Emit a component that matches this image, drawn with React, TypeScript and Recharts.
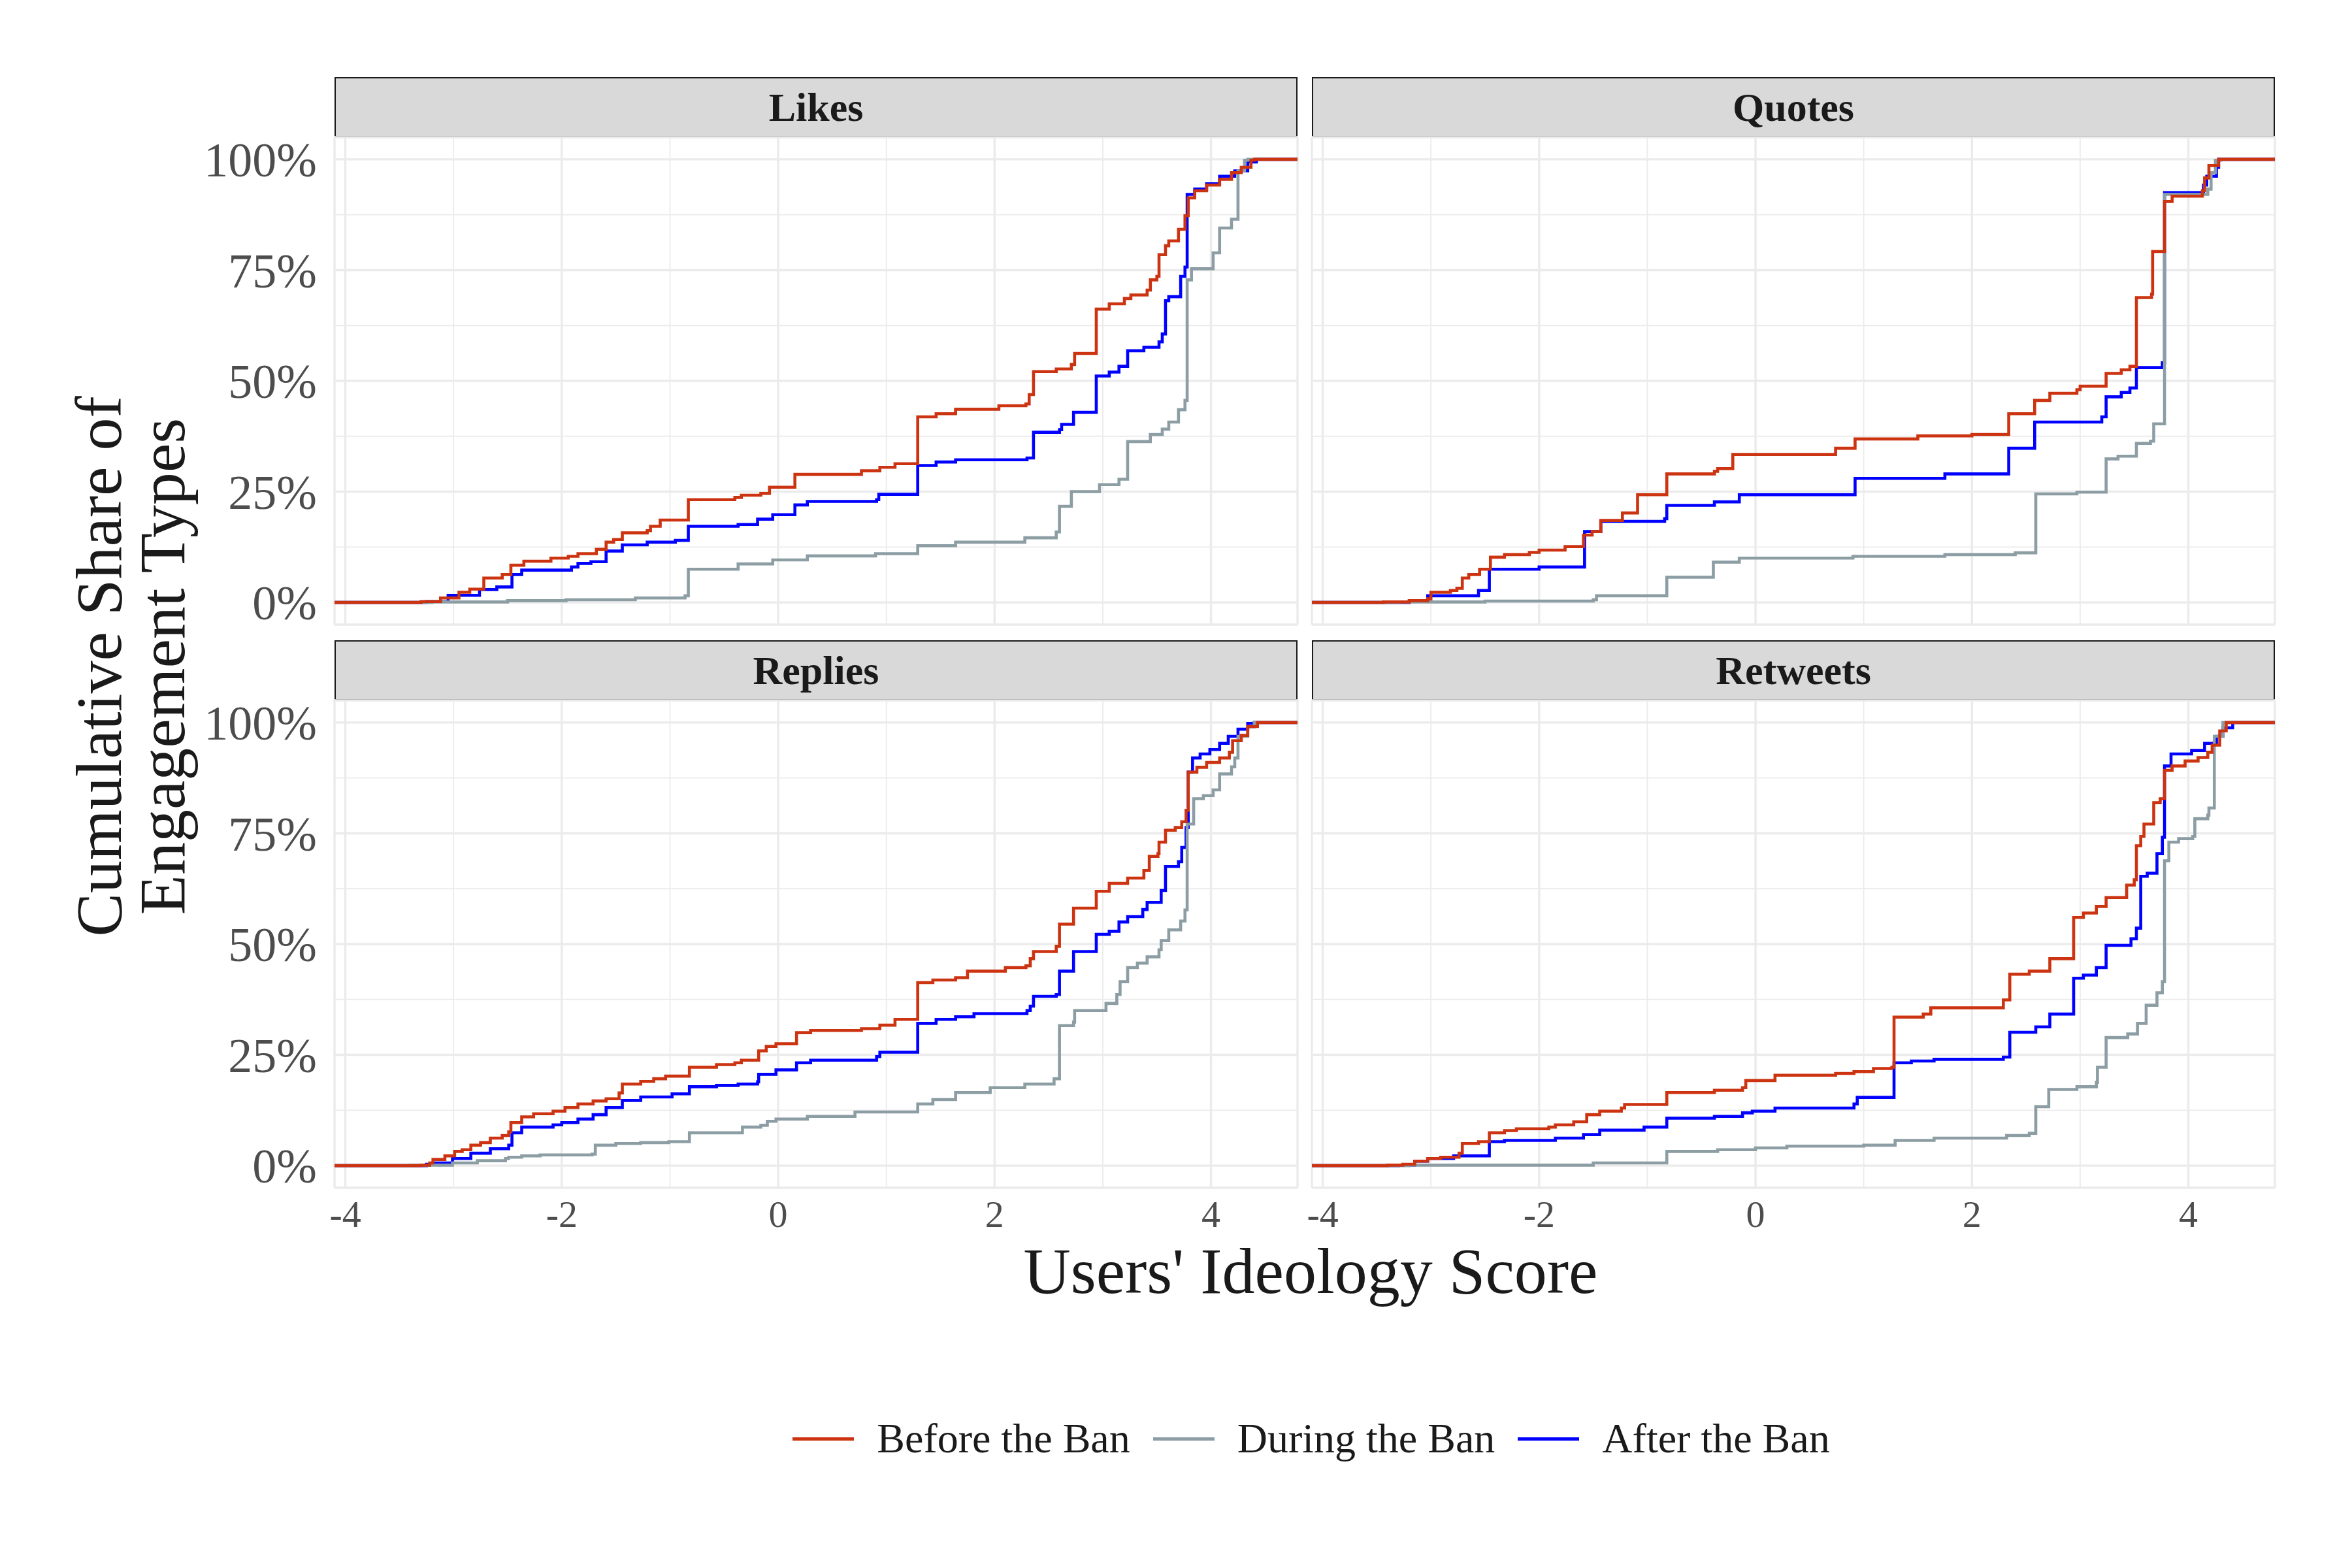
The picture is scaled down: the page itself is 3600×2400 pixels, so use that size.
import React from 'react';
import { LineChart, Line, XAxis, YAxis, CartesianGrid } from 'recharts';

type Pt = [number, number];

const font = '"Liberation Serif", "DejaVu Serif", serif';

const periods = ['Before the Ban', 'During the Ban', 'After the Ban'];
const periodColors = ['#CC3311', '#8C9DA4', '#0000FF'];
// red drawn last so it sits on top, like the original
const drawOrder = [2, 1, 0];

const xMajor = [-4, -2, 0, 2, 4];
const xMinor = [-3, -1, 1, 3];
const yMajor = [0, 25, 50, 75, 100];
const yMinor = [12.5, 37.5, 62.5, 87.5];
const xDomain: [number, number] = [-4.1, 4.8];
const yDomain: [number, number] = [-5, 105];

// ideology score, cumulative share (%)
const likesBefore: Pt[] = [
  [-3.3, 0.2], [-3.12, 1.0], [-2.95, 2.3], [-2.85, 3.0], [-2.72, 5.5], [-2.55, 6.3], [-2.47, 8.4],
  [-2.35, 9.3], [-2.1, 10.0], [-1.94, 10.4], [-1.85, 11.0], [-1.68, 12.0], [-1.59, 13.6], [-1.52, 14.2],
  [-1.44, 15.7], [-1.21, 16.2], [-1.18, 17.2], [-1.09, 18.6], [-0.83, 23.2], [-0.4, 23.7], [-0.34, 24.2],
  [-0.16, 24.6], [-0.08, 26.0], [0.155, 28.9], [0.77, 29.7], [0.94, 30.5], [1.08, 31.3], [1.29, 41.9],
  [1.46, 42.6], [1.64, 43.6], [2.04, 44.4], [2.29, 44.8], [2.32, 46.9], [2.36, 52.1], [2.57, 52.7],
  [2.71, 53.7], [2.74, 56.2], [2.94, 66.2], [3.06, 67.4], [3.2, 68.6], [3.26, 69.4], [3.41, 70.5],
  [3.44, 72.8], [3.5, 73.6], [3.52, 78.5], [3.58, 80.5], [3.61, 81.6], [3.7, 84.2], [3.76, 87.3],
  [3.79, 91.3], [3.85, 92.9], [3.96, 94.2], [4.08, 95.5], [4.19, 97.0], [4.28, 98.2], [4.37, 99.8], [4.4, 100],
];
const likesDuring: Pt[] = [
  [-3.2, 0.1], [-2.5, 0.4], [-1.96, 0.6], [-1.32, 1.0], [-0.86, 1.5], [-0.83, 7.5], [-0.37, 8.7],
  [-0.05, 9.6], [0.27, 10.5], [0.9, 11.0], [1.29, 12.8], [1.64, 13.6], [2.28, 14.6], [2.57, 15.9],
  [2.6, 21.7], [2.71, 25.0], [2.97, 26.6], [3.15, 27.8], [3.23, 36.3], [3.44, 37.9], [3.55, 39.1],
  [3.61, 40.7], [3.7, 43.5], [3.76, 45.6], [3.78, 72.8], [3.82, 75.3], [4.02, 78.9], [4.08, 84.5],
  [4.19, 86.5], [4.25, 97.4], [4.31, 99.8], [4.34, 100],
];
const likesAfter: Pt[] = [
  [-3.25, 0.2], [-3.05, 1.6], [-2.76, 2.9], [-2.6, 3.5], [-2.46, 6.3], [-2.37, 7.3], [-1.91, 8.0],
  [-1.85, 8.8], [-1.73, 9.2], [-1.59, 11.6], [-1.44, 13.0], [-1.21, 13.6], [-0.95, 14.0], [-0.83, 17.2],
  [-0.37, 17.6], [-0.19, 18.8], [-0.05, 19.8], [0.155, 22.0], [0.27, 22.8], [0.91, 23.2], [0.93, 24.4],
  [1.29, 30.9], [1.46, 31.7], [1.64, 32.2], [2.3, 32.6], [2.36, 38.4], [2.6, 39.0], [2.62, 40.2],
  [2.73, 42.9], [2.94, 51.1], [3.06, 52.0], [3.15, 53.3], [3.23, 56.8], [3.38, 57.6], [3.52, 58.8],
  [3.55, 60.6], [3.58, 68.1], [3.61, 69.0], [3.72, 73.6], [3.76, 75.7], [3.78, 92.1], [3.85, 93.3],
  [3.96, 94.5], [4.08, 96.2], [4.22, 97.4], [4.34, 99.4], [4.42, 100],
];

const quotesBefore: Pt[] = [
  [-3.44, 0.1], [-3.2, 0.4], [-3.03, 0.8], [-3.0, 2.3], [-2.82, 2.7], [-2.76, 3.2], [-2.71, 5.5],
  [-2.65, 6.3], [-2.55, 7.5], [-2.45, 10.2], [-2.32, 10.8], [-2.09, 11.3], [-2.0, 11.8], [-1.76, 12.6],
  [-1.59, 15.2], [-1.51, 16.0], [-1.43, 18.5], [-1.23, 20.2], [-1.09, 24.3], [-0.82, 29.0], [-0.38, 29.6],
  [-0.35, 30.2], [-0.21, 33.4], [0.74, 34.8], [0.92, 36.9], [1.5, 37.6], [2.0, 37.9], [2.34, 42.6],
  [2.58, 45.6], [2.72, 47.2], [2.97, 48.0], [3.0, 48.8], [3.24, 51.7], [3.38, 52.5], [3.46, 53.3],
  [3.52, 68.8], [3.66, 69.6], [3.67, 79.2], [3.78, 90.5], [3.85, 91.7], [4.13, 92.9], [4.15, 95.8],
  [4.19, 98.6], [4.28, 100],
];
const quotesDuring: Pt[] = [
  [-3.3, 0.1], [-2.5, 0.3], [-1.5, 0.6], [-1.47, 1.5], [-0.82, 5.7], [-0.39, 9.1], [-0.15, 10.0],
  [0.9, 10.4], [1.75, 10.8], [2.4, 11.2], [2.59, 24.5], [2.97, 24.9], [3.24, 32.4], [3.35, 33.0],
  [3.52, 35.9], [3.65, 36.4], [3.68, 40.3], [3.78, 92.1], [4.18, 93.3], [4.21, 97.0], [4.25, 99.8], [4.3, 100],
];
const quotesAfter: Pt[] = [
  [-3.2, 0.3], [-3.03, 1.5], [-2.56, 2.7], [-2.46, 7.5], [-2.0, 8.0], [-1.58, 16.0], [-1.43, 18.3],
  [-0.84, 18.9], [-0.82, 21.9], [-0.38, 22.7], [-0.15, 24.3], [0.92, 28.0], [1.75, 29.0], [2.34, 34.8],
  [2.58, 40.7], [3.2, 41.9], [3.24, 46.4], [3.38, 47.4], [3.46, 48.4], [3.52, 53.0], [3.76, 54.1],
  [3.78, 92.5], [4.14, 94.2], [4.17, 96.2], [4.26, 98.2], [4.28, 100],
];

const repliesBefore: Pt[] = [
  [-3.3, 0.1], [-3.22, 0.6], [-3.19, 1.4], [-3.08, 2.2], [-2.99, 3.2], [-2.92, 3.6], [-2.84, 4.6],
  [-2.75, 5.2], [-2.66, 6.2], [-2.55, 6.8], [-2.49, 7.6], [-2.47, 9.7], [-2.37, 11.0], [-2.26, 11.7],
  [-2.08, 12.3], [-1.97, 13.1], [-1.85, 13.9], [-1.71, 14.6], [-1.59, 15.1], [-1.47, 16.4], [-1.44, 18.4],
  [-1.27, 19.0], [-1.15, 19.6], [-1.04, 20.2], [-0.82, 22.2], [-0.57, 22.8], [-0.4, 23.2], [-0.34, 23.8],
  [-0.18, 25.9], [-0.11, 26.9], [-0.02, 27.5], [0.17, 30.0], [0.3, 30.5], [0.77, 30.9], [0.94, 31.7],
  [1.08, 33.0], [1.29, 41.3], [1.43, 41.9], [1.64, 42.4], [1.75, 43.9], [2.1, 44.7], [2.29, 45.1],
  [2.33, 46.7], [2.36, 48.3], [2.57, 49.5], [2.6, 54.5], [2.73, 58.1], [2.94, 61.9], [3.06, 63.7],
  [3.23, 64.9], [3.38, 66.6], [3.43, 69.8], [3.51, 70.4], [3.52, 73.0], [3.58, 75.7], [3.67, 76.3],
  [3.73, 77.6], [3.77, 80.2], [3.79, 88.8], [3.87, 89.9], [3.96, 91.0], [4.08, 92.0], [4.17, 93.3],
  [4.2, 95.9], [4.28, 97.1], [4.34, 99.1], [4.43, 100],
];
const repliesDuring: Pt[] = [
  [-3.4, 0.1], [-3.01, 0.6], [-2.78, 1.1], [-2.52, 1.6], [-2.49, 1.9], [-2.37, 2.2], [-2.2, 2.4],
  [-1.72, 2.6], [-1.69, 4.6], [-1.5, 5.0], [-1.27, 5.2], [-1.01, 5.4], [-0.82, 7.4], [-0.33, 8.7],
  [-0.16, 9.1], [-0.1, 10.0], [-0.02, 10.5], [0.27, 11.1], [0.71, 12.1], [1.29, 13.9], [1.43, 14.9],
  [1.64, 16.5], [1.96, 17.6], [2.28, 18.4], [2.55, 19.6], [2.6, 31.6], [2.73, 32.4], [2.74, 35.0],
  [3.03, 36.6], [3.13, 38.6], [3.16, 41.5], [3.23, 44.7], [3.32, 45.7], [3.41, 47.1], [3.52, 48.7],
  [3.54, 50.8], [3.61, 53.2], [3.72, 55.2], [3.76, 57.7], [3.78, 77.1], [3.84, 82.8], [3.93, 83.5],
  [4.02, 84.8], [4.08, 88.4], [4.19, 90.0], [4.22, 92.0], [4.25, 96.9], [4.34, 99.0], [4.4, 100],
];
const repliesAfter: Pt[] = [
  [-3.25, 0.3], [-3.19, 0.6], [-3.01, 1.6], [-2.84, 2.8], [-2.66, 3.8], [-2.49, 4.6], [-2.46, 7.4],
  [-2.37, 8.7], [-2.08, 9.2], [-2.0, 9.7], [-1.85, 10.5], [-1.71, 11.5], [-1.59, 13.1], [-1.44, 14.7],
  [-1.27, 15.5], [-0.98, 16.2], [-0.82, 17.8], [-0.57, 18.1], [-0.37, 18.4], [-0.19, 18.9], [-0.18, 20.6],
  [-0.02, 21.6], [0.17, 23.2], [0.3, 23.8], [0.91, 24.6], [0.94, 25.6], [1.29, 32.1], [1.46, 33.0],
  [1.64, 33.6], [1.81, 34.3], [2.3, 35.0], [2.33, 36.0], [2.36, 38.2], [2.57, 38.6], [2.6, 43.9],
  [2.73, 48.3], [2.94, 52.2], [3.06, 52.9], [3.15, 55.0], [3.23, 56.2], [3.37, 57.8], [3.41, 59.4],
  [3.54, 62.1], [3.58, 67.5], [3.7, 68.6], [3.73, 71.8], [3.77, 76.3], [3.79, 88.8], [3.83, 92.0],
  [3.9, 92.9], [3.99, 93.9], [4.08, 95.3], [4.16, 96.9], [4.25, 98.5], [4.34, 99.8], [4.4, 100],
];

const retweetsBefore: Pt[] = [
  [-3.4, 0.1], [-3.26, 0.3], [-3.15, 1.0], [-3.03, 1.6], [-2.91, 1.9], [-2.74, 2.8], [-2.71, 5.0],
  [-2.56, 5.4], [-2.46, 7.4], [-2.32, 7.9], [-2.21, 8.3], [-1.91, 8.7], [-1.85, 9.2], [-1.68, 9.9],
  [-1.56, 11.5], [-1.44, 12.3], [-1.24, 13.0], [-1.21, 13.8], [-0.82, 16.5], [-0.38, 17.0], [-0.12, 17.6],
  [-0.09, 19.2], [0.18, 20.4], [0.74, 20.8], [0.91, 21.2], [1.09, 21.9], [1.26, 22.2], [1.28, 33.5],
  [1.55, 34.2], [1.62, 35.6], [2.29, 37.4], [2.35, 43.2], [2.53, 43.9], [2.72, 46.7], [2.94, 56.0],
  [3.03, 57.0], [3.15, 58.5], [3.24, 60.5], [3.43, 63.3], [3.5, 64.5], [3.52, 72.2], [3.56, 74.3],
  [3.59, 77.1], [3.68, 81.9], [3.74, 82.8], [3.78, 89.2], [3.85, 90.2], [3.97, 91.3], [4.09, 92.1],
  [4.18, 93.3], [4.22, 94.9], [4.29, 98.1], [4.35, 100],
];
const retweetsDuring: Pt[] = [
  [-3.2, 0.1], [-1.5, 0.6], [-0.82, 3.2], [-0.35, 3.6], [0.0, 4.0], [0.29, 4.4], [1.0, 4.6], [1.29, 5.7],
  [1.65, 6.2], [2.32, 6.8], [2.53, 7.3], [2.59, 13.3], [2.71, 17.2], [2.97, 17.8], [3.15, 18.8],
  [3.16, 22.2], [3.24, 28.9], [3.44, 29.7], [3.53, 32.1], [3.61, 36.2], [3.71, 39.0], [3.76, 41.5],
  [3.78, 68.8], [3.82, 73.0], [3.91, 73.8], [4.04, 74.3], [4.06, 78.3], [4.18, 79.1], [4.19, 80.7],
  [4.24, 96.9], [4.32, 100],
];
const retweetsAfter: Pt[] = [
  [-3.3, 0.1], [-3.15, 1.0], [-3.03, 1.6], [-2.79, 2.2], [-2.46, 5.4], [-2.32, 5.7], [-1.85, 6.2],
  [-1.59, 7.0], [-1.44, 8.0], [-1.03, 8.7], [-0.82, 10.7], [-0.38, 11.1], [-0.12, 11.9], [-0.03, 12.3],
  [0.18, 13.0], [0.91, 13.9], [0.94, 15.4], [1.28, 23.2], [1.44, 23.6], [1.65, 24.0], [2.29, 24.5],
  [2.35, 30.1], [2.59, 31.3], [2.72, 34.2], [2.94, 42.3], [3.03, 43.0], [3.15, 44.7], [3.24, 49.7],
  [3.47, 51.2], [3.52, 53.6], [3.56, 65.3], [3.62, 66.0], [3.71, 70.4], [3.76, 74.1], [3.78, 90.2],
  [3.84, 92.9], [4.03, 93.7], [4.15, 95.3], [4.26, 96.9], [4.32, 98.8], [4.41, 100],
];

const panelNames = ['Likes', 'Quotes', 'Replies', 'Retweets'];
const panelSeries: Pt[][][] = [
  [likesBefore, likesDuring, likesAfter],
  [quotesBefore, quotesDuring, quotesAfter],
  [repliesBefore, repliesDuring, repliesAfter],
  [retweetsBefore, retweetsDuring, retweetsAfter],
];

const PLOT_W = 1474;
const PLOT_H = 746;
const Y_AXIS_W = 260;
const X_AXIS_H = 110;
const PAD = 40; // spare room above/below so edge tick labels are not clipped
const STRIP_H = 92;
const COL_LEFT = [512, 2008];
const ROW_TOP = [210, 1072];

// stat_ecdf pads the curve out to the panel edges
const toRows = (pts: Pt[]) => [
  { x: xDomain[0], y: 0 },
  ...pts.map(([x, y]) => ({ x, y })),
  { x: xDomain[1], y: 100 },
];

const Panel = ({ idx }: { idx: number }) => {
  const col = idx % 2;
  const row = Math.floor(idx / 2);
  const showY = col === 0;
  const showX = row === 1;
  const left = COL_LEFT[col];
  const top = ROW_TOP[row];
  const series = panelSeries[idx];
  return (
    <>
      <div
        style={{
          position: 'absolute',
          left,
          top: top - STRIP_H,
          width: PLOT_W,
          height: STRIP_H,
          boxSizing: 'border-box',
          background: '#D9D9D9',
          border: '2.5px solid #1A1A1A',
          display: 'flex',
          alignItems: 'center',
          justifyContent: 'center',
          fontFamily: font,
          fontWeight: 'bold',
          fontSize: 62,
          color: '#1A1A1A',
        }}
      >
        {panelNames[idx]}
      </div>
      <div style={{ position: 'absolute', left: left - (showY ? Y_AXIS_W : 0), top: top - PAD }}>
        <LineChart
          width={PLOT_W + (showY ? Y_AXIS_W : 0)}
          height={PLOT_H + PAD + (showX ? X_AXIS_H : PAD)}
          margin={{ top: PAD, right: 0, bottom: showX ? 0 : PAD, left: 0 }}
        >
          <CartesianGrid xAxisId="minor" yAxisId="minor" stroke="#EBEBEB" strokeWidth={1.8} />
          <CartesianGrid stroke="#EBEBEB" strokeWidth={3.4} />
          <XAxis xAxisId="minor" type="number" dataKey="x" domain={xDomain} ticks={xMinor} hide allowDataOverflow />
          <YAxis yAxisId="minor" type="number" domain={yDomain} ticks={yMinor} hide allowDataOverflow />
          <XAxis
            type="number"
            dataKey="x"
            domain={xDomain}
            ticks={xMajor}
            interval={0}
            allowDataOverflow
            hide={!showX}
            height={X_AXIS_H}
            axisLine={false}
            tickLine={false}
            tickSize={6}
            tickMargin={13}
            tick={{ fontSize: 58, fill: '#4D4D4D', fontFamily: font }}
          />
          <YAxis
            type="number"
            domain={yDomain}
            ticks={yMajor}
            interval={0}
            allowDataOverflow
            hide={!showY}
            width={Y_AXIS_W}
            axisLine={false}
            tickLine={false}
            tickSize={6}
            tickMargin={21}
            tickFormatter={(v: number) => `${v}%`}
            tick={{ fontSize: 74, fill: '#4D4D4D', fontFamily: font }}
          />
          {drawOrder.map((s) => (
            <Line
              key={periods[s]}
              data={toRows(series[s])}
              dataKey="y"
              name={periods[s]}
              type="stepAfter"
              stroke={periodColors[s]}
              strokeWidth={4.6}
              dot={false}
              activeDot={false}
              isAnimationActive={false}
            />
          ))}
        </LineChart>
      </div>
    </>
  );
};

export default function App() {
  return (
    <div
      style={{
        position: 'absolute',
        left: 0,
        top: 0,
        width: 3600,
        height: 2400,
        background: '#fff',
        fontFamily: font,
        overflow: 'hidden',
      }}
    >
      <style>{'.recharts-surface { overflow: visible; }'}</style>
      {panelNames.map((n, i) => (
        <Panel key={n} idx={i} />
      ))}

      {/* y axis title */}
      <div
        style={{
          position: 'absolute',
          left: 200 - 700,
          top: 1020 - 100,
          width: 1400,
          height: 200,
          transform: 'rotate(-90deg)',
          textAlign: 'center',
          fontSize: 100,
          lineHeight: '97px',
          color: '#1A1A1A',
          display: 'flex',
          flexDirection: 'column',
          justifyContent: 'center',
        }}
      >
        <div>Cumulative Share of</div>
        <div>Engagement Types</div>
      </div>

      {/* x axis title */}
      <div
        style={{
          position: 'absolute',
          left: 2006 - 1000,
          top: 1896,
          width: 2000,
          textAlign: 'center',
          fontSize: 100,
          lineHeight: '100px',
          color: '#1A1A1A',
        }}
      >
        Users' Ideology Score
      </div>

      {/* legend */}
      <div
        style={{
          position: 'absolute',
          left: 2007 - 1500,
          top: 2202 - 40,
          width: 3000,
          height: 80,
          display: 'flex',
          alignItems: 'center',
          justifyContent: 'center',
          fontSize: 64,
          color: '#1A1A1A',
        }}
      >
        {periods.map((p, i) => (
          <div key={p} style={{ display: 'flex', alignItems: 'center', marginLeft: i === 0 ? 0 : 35 }}>
            <span style={{ display: 'inline-block', width: 94, height: 5, background: periodColors[i], marginRight: 35 }} />
            <span>{p}</span>
          </div>
        ))}
      </div>
    </div>
  );
}
